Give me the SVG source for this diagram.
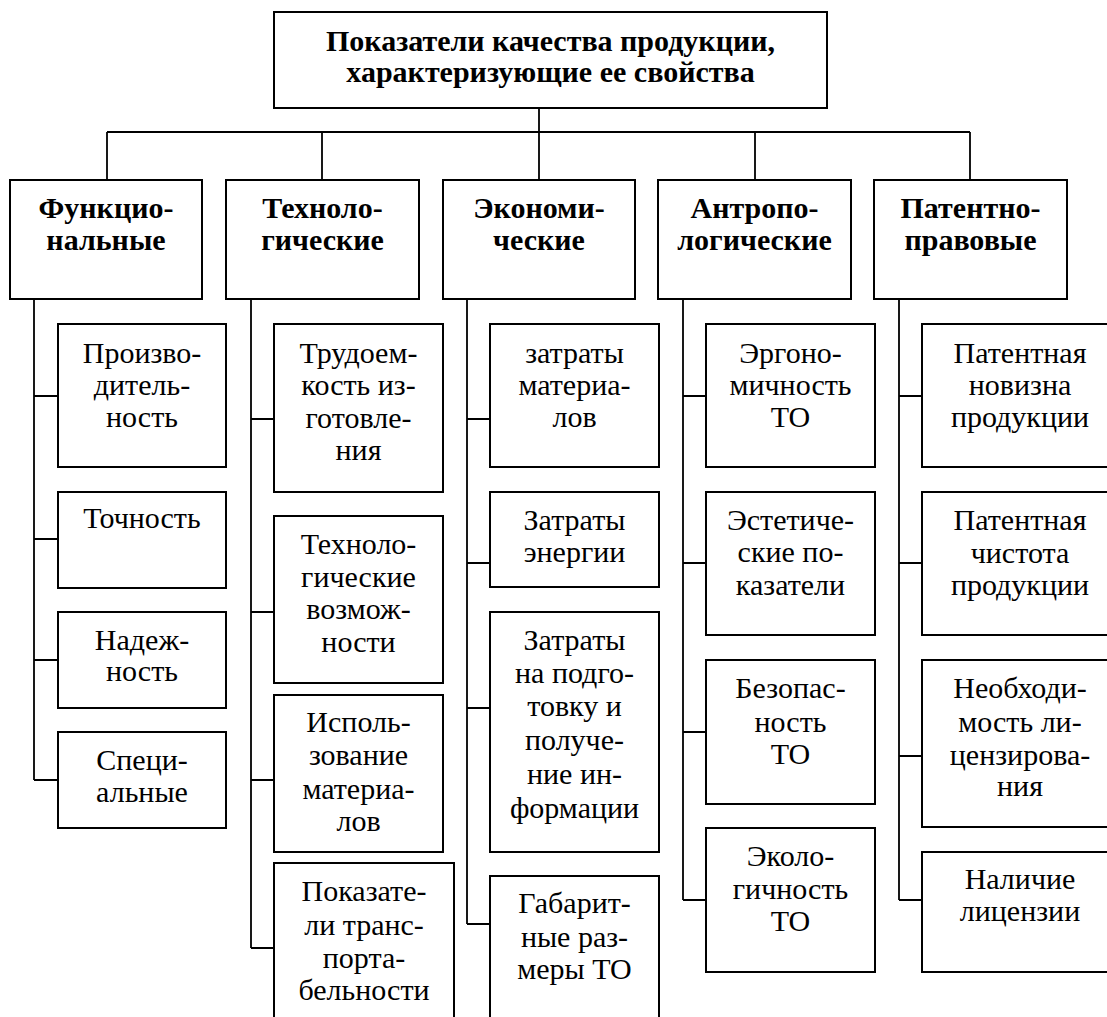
<svg xmlns="http://www.w3.org/2000/svg" width="1107" height="1017" viewBox="0 0 1107 1017">
<rect width="1107" height="1017" fill="#fff"/>
<g id="connectors" fill="none" stroke="#000" stroke-width="1.8">
  <path d="M539,108 V180 M107,132 H970 M107,132 V180 M322,132 V180 M755,132 V180 M970,132 V180"/>
  <path d="M34,299 V780 M34,396 H58 M34,539 H58 M34,660 H58 M34,780 H58"/>
  <path d="M251,299 V948 M251,419 H274 M251,612 H274 M251,780 H274 M251,948 H274"/>
  <path d="M467,299 V924 M467,419 H490 M467,563 H490 M467,708 H490 M467,924 H490"/>
  <path d="M683,299 V900 M683,396 H706 M683,563 H706 M683,732 H706 M683,900 H706"/>
  <path d="M899,299 V900 M899,396 H922 M899,563 H922 M899,756 H922 M899,900 H922"/>
</g>
<g id="root">
  <rect x="274" y="12" width="553" height="96" fill="#fff" stroke="#000" stroke-width="2"/>
  <text x="550.5" y="50.5" font-family="Liberation Serif" font-size="30" font-weight="bold" text-anchor="middle">Показатели качества продукции,</text>
  <text x="550.5" y="81.5" font-family="Liberation Serif" font-size="30" font-weight="bold" text-anchor="middle">характеризующие ее свойства</text>
</g>
<g id="func">
  <rect x="10" y="180" width="192" height="119" fill="#fff" stroke="#000" stroke-width="2"/>
  <text x="106" y="218" font-family="Liberation Serif" font-size="30" font-weight="bold" text-anchor="middle">Функцио-</text>
  <text x="106" y="250" font-family="Liberation Serif" font-size="30" font-weight="bold" text-anchor="middle">нальные</text>
</g>
<g id="tech">
  <rect x="226" y="180" width="193" height="119" fill="#fff" stroke="#000" stroke-width="2"/>
  <text x="322.5" y="218" font-family="Liberation Serif" font-size="30" font-weight="bold" text-anchor="middle">Техноло-</text>
  <text x="322.5" y="250" font-family="Liberation Serif" font-size="30" font-weight="bold" text-anchor="middle">гические</text>
</g>
<g id="econ">
  <rect x="443" y="180" width="192" height="119" fill="#fff" stroke="#000" stroke-width="2"/>
  <text x="539" y="218" font-family="Liberation Serif" font-size="30" font-weight="bold" text-anchor="middle">Экономи-</text>
  <text x="539" y="250" font-family="Liberation Serif" font-size="30" font-weight="bold" text-anchor="middle">ческие</text>
</g>
<g id="antrop">
  <rect x="658" y="180" width="193" height="119" fill="#fff" stroke="#000" stroke-width="2"/>
  <text x="754.5" y="218" font-family="Liberation Serif" font-size="30" font-weight="bold" text-anchor="middle">Антропо-</text>
  <text x="754.5" y="250" font-family="Liberation Serif" font-size="30" font-weight="bold" text-anchor="middle">логические</text>
</g>
<g id="patent">
  <rect x="874" y="180" width="193" height="119" fill="#fff" stroke="#000" stroke-width="2"/>
  <text x="970.5" y="218" font-family="Liberation Serif" font-size="30" font-weight="bold" text-anchor="middle">Патентно-</text>
  <text x="970.5" y="250" font-family="Liberation Serif" font-size="30" font-weight="bold" text-anchor="middle">правовые</text>
</g>

<g id="f1">
  <rect x="58" y="324" width="168" height="143" fill="#fff" stroke="#000" stroke-width="2"/>
  <text x="142" y="363" font-family="Liberation Serif" font-size="30" text-anchor="middle">Произво-</text>
  <text x="142" y="395" font-family="Liberation Serif" font-size="30" text-anchor="middle">дитель-</text>
  <text x="142" y="427" font-family="Liberation Serif" font-size="30" text-anchor="middle">ность</text>
</g>
<g id="f2">
  <rect x="58" y="492" width="168" height="96" fill="#fff" stroke="#000" stroke-width="2"/>
  <text x="142" y="528" font-family="Liberation Serif" font-size="30" text-anchor="middle">Точность</text>
</g>
<g id="f3">
  <rect x="58" y="612" width="168" height="96" fill="#fff" stroke="#000" stroke-width="2"/>
  <text x="142" y="650" font-family="Liberation Serif" font-size="30" text-anchor="middle">Надеж-</text>
  <text x="142" y="681" font-family="Liberation Serif" font-size="30" text-anchor="middle">ность</text>
</g>
<g id="f4">
  <rect x="58" y="732" width="168" height="96" fill="#fff" stroke="#000" stroke-width="2"/>
  <text x="142" y="770" font-family="Liberation Serif" font-size="30" text-anchor="middle">Специ-</text>
  <text x="142" y="802" font-family="Liberation Serif" font-size="30" text-anchor="middle">альные</text>
</g>

<g id="t1">
  <rect x="274" y="324" width="169" height="168" fill="#fff" stroke="#000" stroke-width="2"/>
  <text x="358.5" y="363" font-family="Liberation Serif" font-size="30" text-anchor="middle">Трудоем-</text>
  <text x="358.5" y="395" font-family="Liberation Serif" font-size="30" text-anchor="middle">кость из-</text>
  <text x="358.5" y="428" font-family="Liberation Serif" font-size="30" text-anchor="middle">готовле-</text>
  <text x="358.5" y="460" font-family="Liberation Serif" font-size="30" text-anchor="middle">ния</text>
</g>
<g id="t2">
  <rect x="274" y="516" width="169" height="167" fill="#fff" stroke="#000" stroke-width="2"/>
  <text x="358.5" y="554" font-family="Liberation Serif" font-size="30" text-anchor="middle">Техноло-</text>
  <text x="358.5" y="587" font-family="Liberation Serif" font-size="30" text-anchor="middle">гические</text>
  <text x="358.5" y="619" font-family="Liberation Serif" font-size="30" text-anchor="middle">возмож-</text>
  <text x="358.5" y="652" font-family="Liberation Serif" font-size="30" text-anchor="middle">ности</text>
</g>
<g id="t3">
  <rect x="274" y="695" width="169" height="157" fill="#fff" stroke="#000" stroke-width="2"/>
  <text x="358.5" y="732" font-family="Liberation Serif" font-size="30" text-anchor="middle">Исполь-</text>
  <text x="358.5" y="765" font-family="Liberation Serif" font-size="30" text-anchor="middle">зование</text>
  <text x="358.5" y="799" font-family="Liberation Serif" font-size="30" text-anchor="middle">материа-</text>
  <text x="358.5" y="831" font-family="Liberation Serif" font-size="30" text-anchor="middle">лов</text>
</g>
<g id="t4">
  <rect x="274" y="863" width="180" height="170" fill="#fff" stroke="#000" stroke-width="2"/>
  <text x="364" y="901" font-family="Liberation Serif" font-size="30" text-anchor="middle">Показате-</text>
  <text x="364" y="935" font-family="Liberation Serif" font-size="30" text-anchor="middle">ли транс-</text>
  <text x="364" y="968" font-family="Liberation Serif" font-size="30" text-anchor="middle">порта-</text>
  <text x="364" y="1000" font-family="Liberation Serif" font-size="30" text-anchor="middle">бельности</text>
</g>

<g id="e1">
  <rect x="490" y="324" width="169" height="143" fill="#fff" stroke="#000" stroke-width="2"/>
  <text x="574.5" y="363" font-family="Liberation Serif" font-size="30" text-anchor="middle">затраты</text>
  <text x="574.5" y="395" font-family="Liberation Serif" font-size="30" text-anchor="middle">материа-</text>
  <text x="574.5" y="427" font-family="Liberation Serif" font-size="30" text-anchor="middle">лов</text>
</g>
<g id="e2">
  <rect x="490" y="492" width="169" height="95" fill="#fff" stroke="#000" stroke-width="2"/>
  <text x="574.5" y="530" font-family="Liberation Serif" font-size="30" text-anchor="middle">Затраты</text>
  <text x="574.5" y="562" font-family="Liberation Serif" font-size="30" text-anchor="middle">энергии</text>
</g>
<g id="e3">
  <rect x="490" y="612" width="169" height="240" fill="#fff" stroke="#000" stroke-width="2"/>
  <text x="574.5" y="650" font-family="Liberation Serif" font-size="30" text-anchor="middle">Затраты</text>
  <text x="574.5" y="683" font-family="Liberation Serif" font-size="30" text-anchor="middle">на подго-</text>
  <text x="574.5" y="716" font-family="Liberation Serif" font-size="30" text-anchor="middle">товку и</text>
  <text x="574.5" y="750" font-family="Liberation Serif" font-size="30" text-anchor="middle">получе-</text>
  <text x="574.5" y="784" font-family="Liberation Serif" font-size="30" text-anchor="middle">ние ин-</text>
  <text x="574.5" y="818" font-family="Liberation Serif" font-size="30" text-anchor="middle">формации</text>
</g>
<g id="e4">
  <rect x="490" y="876" width="169" height="160" fill="#fff" stroke="#000" stroke-width="2"/>
  <text x="574.5" y="913" font-family="Liberation Serif" font-size="30" text-anchor="middle">Габарит-</text>
  <text x="574.5" y="947" font-family="Liberation Serif" font-size="30" text-anchor="middle">ные раз-</text>
  <text x="574.5" y="979" font-family="Liberation Serif" font-size="30" text-anchor="middle">меры ТО</text>
</g>

<g id="a1">
  <rect x="706" y="324" width="169" height="143" fill="#fff" stroke="#000" stroke-width="2"/>
  <text x="790.5" y="363" font-family="Liberation Serif" font-size="30" text-anchor="middle">Эргоно-</text>
  <text x="790.5" y="395" font-family="Liberation Serif" font-size="30" text-anchor="middle">мичность</text>
  <text x="790.5" y="427" font-family="Liberation Serif" font-size="30" text-anchor="middle">ТО</text>
</g>
<g id="a2">
  <rect x="706" y="492" width="169" height="143" fill="#fff" stroke="#000" stroke-width="2"/>
  <text x="790.5" y="530" font-family="Liberation Serif" font-size="30" text-anchor="middle">Эстетиче-</text>
  <text x="790.5" y="562" font-family="Liberation Serif" font-size="30" text-anchor="middle">ские по-</text>
  <text x="790.5" y="595" font-family="Liberation Serif" font-size="30" text-anchor="middle">казатели</text>
</g>
<g id="a3">
  <rect x="706" y="660" width="169" height="144" fill="#fff" stroke="#000" stroke-width="2"/>
  <text x="790.5" y="698" font-family="Liberation Serif" font-size="30" text-anchor="middle">Безопас-</text>
  <text x="790.5" y="732" font-family="Liberation Serif" font-size="30" text-anchor="middle">ность</text>
  <text x="790.5" y="764" font-family="Liberation Serif" font-size="30" text-anchor="middle">ТО</text>
</g>
<g id="a4">
  <rect x="706" y="828" width="169" height="144" fill="#fff" stroke="#000" stroke-width="2"/>
  <text x="790.5" y="866" font-family="Liberation Serif" font-size="30" text-anchor="middle">Эколо-</text>
  <text x="790.5" y="899" font-family="Liberation Serif" font-size="30" text-anchor="middle">гичность</text>
  <text x="790.5" y="931" font-family="Liberation Serif" font-size="30" text-anchor="middle">ТО</text>
</g>

<g id="p1">
  <rect x="922" y="324" width="196" height="143" fill="#fff" stroke="#000" stroke-width="2"/>
  <text x="1020" y="363" font-family="Liberation Serif" font-size="30" text-anchor="middle">Патентная</text>
  <text x="1020" y="395" font-family="Liberation Serif" font-size="30" text-anchor="middle">новизна</text>
  <text x="1020" y="427" font-family="Liberation Serif" font-size="30" text-anchor="middle">продукции</text>
</g>
<g id="p2">
  <rect x="922" y="492" width="196" height="143" fill="#fff" stroke="#000" stroke-width="2"/>
  <text x="1020" y="530" font-family="Liberation Serif" font-size="30" text-anchor="middle">Патентная</text>
  <text x="1020" y="563" font-family="Liberation Serif" font-size="30" text-anchor="middle">чистота</text>
  <text x="1020" y="595" font-family="Liberation Serif" font-size="30" text-anchor="middle">продукции</text>
</g>
<g id="p3">
  <rect x="922" y="660" width="196" height="167" fill="#fff" stroke="#000" stroke-width="2"/>
  <text x="1020" y="698" font-family="Liberation Serif" font-size="30" text-anchor="middle">Необходи-</text>
  <text x="1020" y="732" font-family="Liberation Serif" font-size="30" text-anchor="middle">мость ли-</text>
  <text x="1020" y="765" font-family="Liberation Serif" font-size="30" text-anchor="middle">цензирова-</text>
  <text x="1020" y="796" font-family="Liberation Serif" font-size="30" text-anchor="middle">ния</text>
</g>
<g id="p4">
  <rect x="922" y="852" width="196" height="120" fill="#fff" stroke="#000" stroke-width="2"/>
  <text x="1020" y="889" font-family="Liberation Serif" font-size="30" text-anchor="middle">Наличие</text>
  <text x="1020" y="921" font-family="Liberation Serif" font-size="30" text-anchor="middle">лицензии</text>
</g>
</svg>
